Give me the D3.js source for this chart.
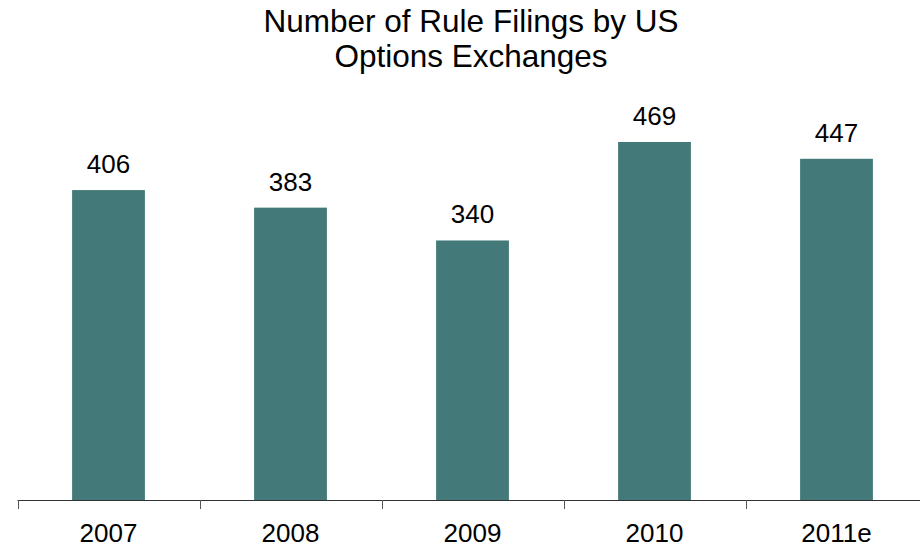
<!DOCTYPE html>
<html>
<head>
<meta charset="utf-8">
<script src="https://cdn.jsdelivr.net/npm/d3@7"></script>
<style>
  body { margin: 0; background: #fff; }
  text { font-family: "Liberation Sans", Arial, sans-serif; fill: #000; }
</style>
</head>
<body>
<div id="chart"></div>
<script>
// chart data
var years = ["2007", "2008", "2009", "2010", "2011e"];
var filings = [406, 383, 340, 469, 447];
var titleLines = ["Number of Rule Filings by US", "Options Exchanges"];

var svgWidth = 920;
var svgHeight = 548;

var svg = d3.select("#chart")
    .append("svg")
    .attr("width", svgWidth)
    .attr("height", svgHeight);

// x scale: category bands, axis runs past the right edge
var xScale = d3.scaleBand()
    .domain(years)
    .range([17.5, 927.5])
    .padding(0);

var baseline = 500;
var yScale = d3.scaleLinear()
    .domain([0, 469])
    .range([baseline, 142]);

var barWidth = xScale.bandwidth() * 0.4;

// bars
svg.selectAll("rect.bar")
    .data(filings)
    .enter()
    .append("rect")
    .attr("class", "bar")
    .attr("x", (d, i) => xScale(years[i]) + xScale.bandwidth() / 2 - barWidth / 2)
    .attr("y", d => yScale(d))
    .attr("width", barWidth)
    .attr("height", d => baseline - yScale(d))
    .attr("fill", "#437979");

// value labels
svg.selectAll("text.value")
    .data(filings)
    .enter()
    .append("text")
    .attr("class", "value")
    .attr("x", (d, i) => xScale(years[i]) + xScale.bandwidth() / 2)
    .attr("y", d => yScale(d) - 17)
    .attr("text-anchor", "middle")
    .style("font-size", "26px")
    .text(d => d);

// x axis: line plus ticks between the categories
var axis = svg.append("g");
axis.append("line")
    .attr("x1", 17.5)
    .attr("x2", svgWidth)
    .attr("y1", baseline + 0.5)
    .attr("y2", baseline + 0.5)
    .attr("stroke", "#333")
    .attr("stroke-width", 1);

var tickPositions = years.map(d => xScale(d));
axis.selectAll("line.tick")
    .data(tickPositions)
    .enter()
    .append("line")
    .attr("class", "tick")
    .attr("x1", d => Math.round(d) + 0.5)
    .attr("x2", d => Math.round(d) + 0.5)
    .attr("y1", baseline)
    .attr("y2", baseline + 9)
    .attr("stroke", "#555")
    .attr("stroke-width", 1);

axis.selectAll("text.year")
    .data(years)
    .enter()
    .append("text")
    .attr("class", "year")
    .attr("x", d => xScale(d) + xScale.bandwidth() / 2)
    .attr("y", 542)
    .attr("text-anchor", "middle")
    .style("font-size", "26px")
    .text(d => d);

// title
svg.selectAll("text.title")
    .data(titleLines)
    .enter()
    .append("text")
    .attr("class", "title")
    .attr("x", 471)
    .attr("y", (d, i) => 32 + i * 35)
    .attr("text-anchor", "middle")
    .style("font-size", "31.5px")
    .text(d => d);
</script>
</body>
</html>
